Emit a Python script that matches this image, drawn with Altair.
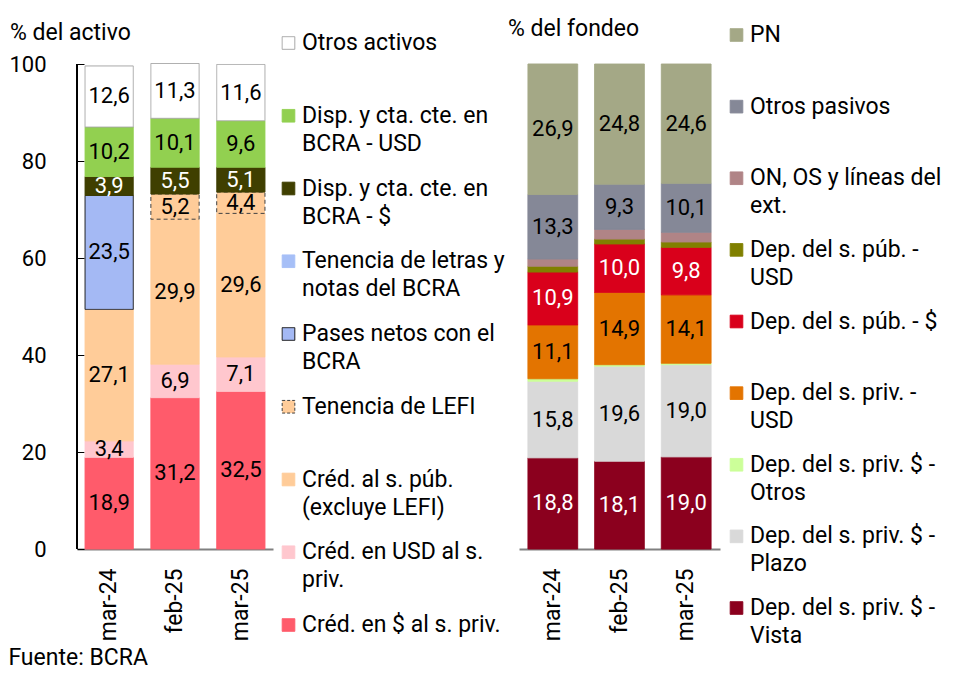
import json
import altair as alt
import pandas as pd

fechas = ["mar-24", "feb-25", "mar-25"]

# ---------- Activo (orden de apilado: de abajo hacia arriba) ----------
activo_series = [
    "Créd. en $ al s. priv.",
    "Créd. en USD al s. priv.",
    "Créd. al s. púb. (excluye LEFI)",
    "Tenencia de LEFI",
    "Pases netos con el BCRA",
    "Tenencia de letras y notas del BCRA",
    "Disp. y cta. cte. en BCRA - $",
    "Disp. y cta. cte. en BCRA - USD",
    "Otros activos",
]
activo_leyenda = [
    "Créd. en $ al s. priv.",
    "Créd. en USD al s.\npriv.",
    "Créd. al s. púb.\n(excluye LEFI)",
    "Tenencia de LEFI",
    "Pases netos con el\nBCRA",
    "Tenencia de letras y\nnotas del BCRA",
    "Disp. y cta. cte. en\nBCRA - $",
    "Disp. y cta. cte. en\nBCRA - USD",
    "Otros activos",
]
cred_pesos = [18.9, 31.2, 32.5]
cred_usd = [3.4, 6.9, 7.1]
cred_pub = [27.1, 29.9, 29.6]
lefi = [0.0, 5.2, 4.4]
pases = [23.5, 0.0, 0.0]
letras = [0.0, 0.0, 0.0]
disp_pesos = [3.9, 5.5, 5.1]
disp_usd = [10.2, 10.1, 9.6]
otros_activos = [12.6, 11.3, 11.6]
activo_valores = [cred_pesos, cred_usd, cred_pub, lefi, pases, letras,
                  disp_pesos, disp_usd, otros_activos]

activo_colores = ["#FF5B6B", "#FFC7CE", "#FFCC99", "#FFCC99", "#A4B9F4",
                  "#A6BFF7", "#3F3F00", "#92D050", "#FFFFFF"]
activo_bordes = ["#FF5B6B", "#FFC7CE", "#FFCC99", "#404040", "#1A1A1A",
                 "#A6BFF7", "#3F3F00", "#92D050", "#A6A6A6"]
activo_trazos = [[1, 0], [1, 0], [1, 0], [4, 3], [1, 0], [1, 0], [1, 0], [1, 0], [1, 0]]
activo_trazos_ley = [[1, 0], [1, 0], [1, 0], [3, 2], [1, 0], [1, 0], [1, 0], [1, 0], [1, 0]]
activo_blancos = ["Disp. y cta. cte. en BCRA - $"]

# ---------- Fondeo ----------
fondeo_series = [
    "Dep. del s. priv. $ - Vista",
    "Dep. del s. priv. $ - Plazo",
    "Dep. del s. priv. $ - Otros",
    "Dep. del s. priv. - USD",
    "Dep. del s. púb. - $",
    "Dep. del s. púb. - USD",
    "ON, OS y líneas del ext.",
    "Otros pasivos",
    "PN",
]
fondeo_leyenda = [
    "Dep. del s. priv. $ -\nVista",
    "Dep. del s. priv. $ -\nPlazo",
    "Dep. del s. priv. $ -\nOtros",
    "Dep. del s. priv. -\nUSD",
    "Dep. del s. púb. - $",
    "Dep. del s. púb. -\nUSD",
    "ON, OS y líneas del\next.",
    "Otros pasivos",
    "PN",
]
dep_vista = [18.8, 18.1, 19.0]
dep_plazo = [15.8, 19.6, 19.0]
dep_otros = [0.5, 0.3, 0.3]
dep_priv_usd = [11.1, 14.9, 14.1]
dep_pub_pesos = [10.9, 10.0, 9.8]
dep_pub_usd = [1.2, 1.0, 1.1]
on_os = [1.5, 2.0, 2.0]
otros_pasivos = [13.3, 9.3, 10.1]
pn = [26.9, 24.8, 24.6]
fondeo_valores = [dep_vista, dep_plazo, dep_otros, dep_priv_usd, dep_pub_pesos,
                  dep_pub_usd, on_os, otros_pasivos, pn]

fondeo_colores = ["#8B001E", "#D9D9D9", "#CCFF99", "#E37400", "#D9001B",
                  "#808000", "#B08486", "#858897", "#A4A886"]
fondeo_bordes = fondeo_colores
fondeo_trazos = [[1, 0]] * 9
fondeo_blancos = ["Dep. del s. priv. $ - Vista", "Dep. del s. púb. - $"]

FONT = "Roboto"
H = 485


def tabla(series, valores):
    filas = []
    for i, (s, vals) in enumerate(zip(series, valores)):
        for f, v in zip(fechas, vals):
            filas.append({"fecha": f, "serie": s, "orden": i, "valor": v,
                          "etiqueta": f"{v:.1f}".replace(".", ",")})
    return pd.DataFrame(filas)


def panel(df, series, colores, bordes, trazos, blancos, p_in, p_out, yaxis):
    x = alt.X("fecha:N", sort=fechas, title=None,
              scale=alt.Scale(paddingInner=p_in, paddingOuter=p_out),
              axis=alt.Axis(labelAngle=-90, labelFontSize=23, labelFont=FONT,
                            labelColor="black", labelPadding=19, ticks=False,
                            tickSize=0, domainColor="#808080", domainWidth=2))
    barras = alt.Chart(df).transform_filter("datum.valor > 0").mark_bar(strokeWidth=1).encode(
        x=x,
        y=alt.Y("valor:Q", stack="zero", scale=alt.Scale(domain=[0, 100]),
                title=None, axis=yaxis),
        fill=alt.Fill("serie:N", scale=alt.Scale(domain=series, range=colores), legend=None),
        stroke=alt.Stroke("serie:N", scale=alt.Scale(domain=series, range=bordes), legend=None),
        strokeDash=alt.StrokeDash("serie:N", scale=alt.Scale(domain=series, range=trazos), legend=None),
        order=alt.Order("orden:Q", sort="ascending"),
    )
    test = "indexof(" + json.dumps(blancos, ensure_ascii=False) + ", datum.serie) >= 0"
    textos = alt.Chart(df).transform_window(
        acum="sum(valor)", groupby=["fecha"],
        sort=[alt.SortField("orden", order="ascending")], frame=[None, 0]
    ).transform_calculate(
        medio="datum.acum - datum.valor / 2"
    ).transform_filter("datum.valor >= 3").mark_text(
        fontSize=22, font=FONT, align="center", baseline="middle"
    ).encode(
        x=alt.X("fecha:N", sort=fechas),
        y=alt.Y("medio:Q"),
        text="etiqueta:N",
        color=alt.condition(test, alt.value("white"), alt.value("black")),
    )
    return barras, textos


def leyenda(series, textos, colores, bordes, trazos, width, y0, y1, xs, xt):
    df = pd.DataFrame({"serie": series, "texto": textos})
    orden = list(reversed(series))
    y = alt.Y("serie:N", sort=orden, axis=None,
              scale=alt.Scale(type="point", range=[y0, y1], padding=0))
    cuadros = alt.Chart(df).mark_square(size=160, opacity=1, filled=True, strokeWidth=1).encode(
        x=alt.value(xs), y=y,
        fill=alt.Fill("serie:N", scale=alt.Scale(domain=series, range=colores), legend=None),
        stroke=alt.Stroke("serie:N", scale=alt.Scale(domain=series, range=bordes), legend=None),
        strokeDash=alt.StrokeDash("serie:N", scale=alt.Scale(domain=series, range=trazos), legend=None),
    )
    etiquetas = alt.Chart(df).mark_text(
        align="left", baseline="top", dy=-11, fontSize=23, font=FONT,
        lineBreak="\n", lineHeight=28, color="black"
    ).encode(x=alt.value(xt), y=y, text="texto:N")
    return alt.layer(cuadros, etiquetas).properties(width=width, height=H)


df_act = tabla(activo_series, activo_valores)
df_fon = tabla(fondeo_series, fondeo_valores)

eje_izq = alt.Axis(values=[0, 20, 40, 60, 80, 100], labelFontSize=22, labelFont=FONT,
                   labelColor="black", tickColor="black", tickSize=7, offset=-7,
                   labelPadding=31, domain=False, grid=False)
b1, t1 = panel(df_act, activo_series, activo_colores, activo_bordes, activo_trazos,
               activo_blancos, 0.267, 0.122, eje_izq)
linea = alt.Chart(df_act).mark_rule(color="black", strokeWidth=1).encode(
    x=alt.value(0), y=alt.datum(0), y2=alt.datum(100))
izq = alt.layer(b1, t1, linea).properties(
    width=196, height=H,
    title=alt.Title("% del activo", anchor="start", frame="group", dx=-67, offset=14, dy=24,
                    baseline="alphabetic", fontSize=23, fontWeight="normal",
                    font=FONT, color="black"))

b2, t2 = panel(df_fon, fondeo_series, fondeo_colores, fondeo_bordes, fondeo_trazos,
               fondeo_blancos, 0.254, 0.134, None)
der = alt.layer(b2, t2).properties(
    width=201, height=H,
    title=alt.Title("% del fondeo", anchor="start", frame="group", dx=-11, offset=29, dy=24,
                    baseline="alphabetic", fontSize=23, fontWeight="normal",
                    font=FONT, color="black"))

ley_izq = leyenda(activo_series, activo_leyenda, activo_colores, activo_bordes,
                  activo_trazos_ley, 236, -21, 561, 10.5, 24)
ley_der = leyenda(fondeo_series, fondeo_leyenda, fondeo_colores, fondeo_bordes,
                  fondeo_trazos, 219, -29, 544, 11.5, 25)

chart = alt.hconcat(izq, ley_izq, der, ley_der, spacing=5, bounds="flush").resolve_scale(
    fill="independent", stroke="independent", strokeDash="independent"
).properties(
    padding={"left": 0, "top": 9, "right": 0, "bottom": 0},
    title=alt.Title("Fuente: BCRA", orient="bottom", anchor="start", frame="bounds",
                    fontSize=23, fontWeight="normal", font=FONT, color="black",
                    offset=2, dy=-4),
).configure(font=FONT).configure_view(stroke="transparent")

chart.save("out.html", embed_options={"renderer": "svg", "actions": False})
